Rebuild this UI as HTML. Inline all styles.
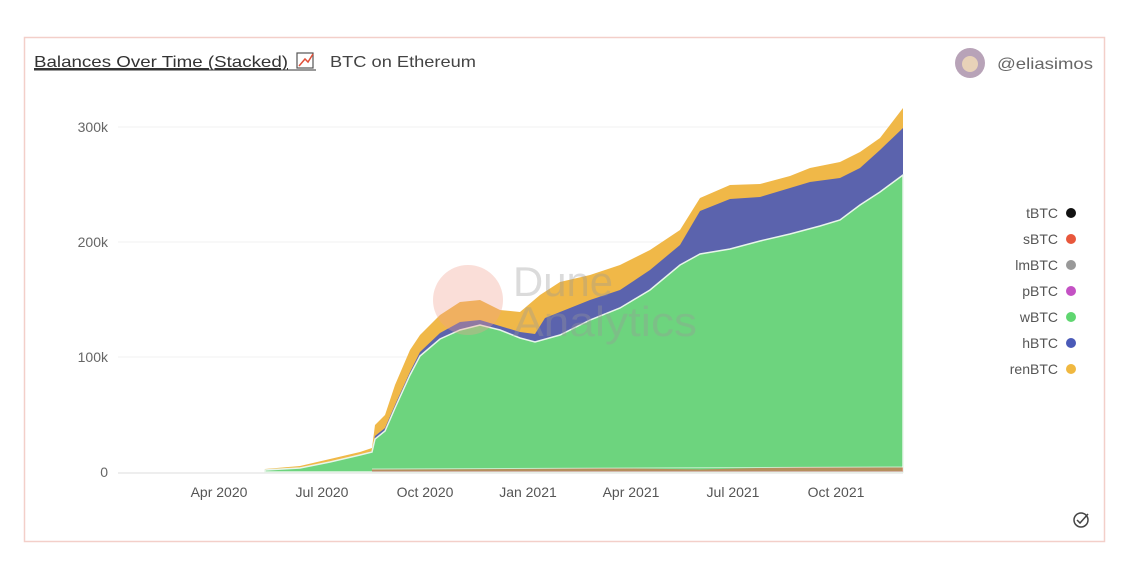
<!DOCTYPE html>
<html><head><style>
body{margin:0;background:#fff;width:1130px;height:566px;overflow:hidden;font-family:"Liberation Sans",sans-serif;}
</style></head><body>
<svg width="1130" height="566" xmlns="http://www.w3.org/2000/svg" font-family="Liberation Sans, sans-serif">
<rect x="24.5" y="37.5" width="1080" height="504" fill="#fff" stroke="#f3cfc9" stroke-width="1.5"/>
<text x="34" y="67" font-size="16" fill="#333" text-decoration="underline" textLength="254" lengthAdjust="spacingAndGlyphs">Balances Over Time (Stacked)</text>
<line x1="34" y1="70" x2="316" y2="70" stroke="#333" stroke-width="1"/>
<rect x="297" y="53" width="16" height="15" fill="none" stroke="#555" stroke-width="1.2"/>
<path d="M299 66 L305 59 L308 62 L313 54" stroke="#e0503a" stroke-width="1.5" fill="none"/>
<text x="330" y="67" font-size="16" fill="#444" textLength="146" lengthAdjust="spacingAndGlyphs">BTC on Ethereum</text>
<circle cx="970" cy="63" r="15" fill="#b8a3b8"/>
<circle cx="970" cy="64" r="8" fill="#e8d2b8"/>
<text x="997" y="69" font-size="16" fill="#666" textLength="96" lengthAdjust="spacingAndGlyphs">@eliasimos</text>
<g stroke="#f0f0f0" stroke-width="1"><line x1="118" y1="127" x2="903" y2="127"/><line x1="118" y1="242" x2="903" y2="242"/><line x1="118" y1="357" x2="903" y2="357"/></g>
<g font-size="14" fill="#666" text-anchor="end"><text x="108" y="132">300k</text><text x="108" y="247">200k</text><text x="108" y="362">100k</text><text x="108" y="477">0</text></g>
<g font-size="14" fill="#555" text-anchor="middle"><text x="219" y="497">Apr 2020</text><text x="322" y="497">Jul 2020</text><text x="425" y="497">Oct 2020</text><text x="528" y="497">Jan 2021</text><text x="631" y="497">Apr 2021</text><text x="733" y="497">Jul 2021</text><text x="836" y="497">Oct 2021</text></g>
<line x1="118" y1="473" x2="903" y2="473" stroke="#ddd"/>
<path fill="#f0b848" d="M265 472 L265 469 300 466 330 459 360 452 372 448 375 425 385 415 395 385 410 350 420 335 440 315 460 302 480 300 500 310 520 312 540 295 560 282 590 275 620 265 650 250 680 230 700 198 730 185 760 184 790 176 810 168 840 162 860 152 880 138 903 108 L903 472 Z"/>
<path fill="#5b63ad" d="M265 472 L265 470 300 468 330 462 360 455 372 451 375 436 385 428 395 405 410 372 420 352 440 333 460 322 480 320 500 326 520 332 535 334 545 318 560 312 590 300 620 290 650 270 680 245 700 211 730 199 760 197 790 188 810 182 840 178 860 168 880 150 903 128 L903 472 Z"/>
<path fill="#6dd47e" stroke="#e8f5ea" stroke-width="1.5" d="M265 472 L265 470 300 468 330 462 360 455 372 452 375 439 385 431 395 408 410 375 420 356 440 339 460 330 480 325 500 330 520 338 535 342 560 335 590 320 620 308 650 290 680 265 700 254 730 249 760 241 790 234 820 226 840 220 860 205 880 192 903 175 L903 472 Z"/>
<path fill="#e8604a" opacity="0.6" d="M372 472 L372 469.5 520 469 600 468 700 469.5 800 467 903 467.5 L903 472 Z"/>
<path fill="#fff" opacity="0.6" d="M372 468.5 L903 466.5 903 467.5 372 469.5Z"/>
<path fill="#ccc" opacity="0.6" d="M372 471 L903 471 903 472 372 472Z"/>
<circle cx="468" cy="300" r="35" fill="#f0a090" opacity="0.35"/>
<text x="513" y="296" font-size="42" fill="#999" opacity="0.35" textLength="100" lengthAdjust="spacingAndGlyphs">Dune</text>
<text x="513" y="336" font-size="42" fill="#999" opacity="0.35" textLength="184" lengthAdjust="spacingAndGlyphs">Analytics</text>
<g font-size="14" fill="#555" text-anchor="end">
<text x="1058" y="218">tBTC</text><text x="1058" y="244">sBTC</text><text x="1058" y="270">lmBTC</text><text x="1058" y="296">pBTC</text><text x="1058" y="322">wBTC</text><text x="1058" y="348">hBTC</text><text x="1058" y="374">renBTC</text></g>
<circle cx="1071" cy="213" r="5" fill="#111"/><circle cx="1071" cy="239" r="5" fill="#e8573c"/><circle cx="1071" cy="265" r="5" fill="#999"/><circle cx="1071" cy="291" r="5" fill="#c451c4"/><circle cx="1071" cy="317" r="5" fill="#5fd670"/><circle cx="1071" cy="343" r="5" fill="#4a5ab8"/><circle cx="1071" cy="369" r="5" fill="#f0b840"/>
<circle cx="1081" cy="520" r="7" fill="none" stroke="#444" stroke-width="1.5"/>
<path d="M1077 520 L1080 523 L1088 514" stroke="#444" stroke-width="1.5" fill="none"/>
</svg>
</body></html>
